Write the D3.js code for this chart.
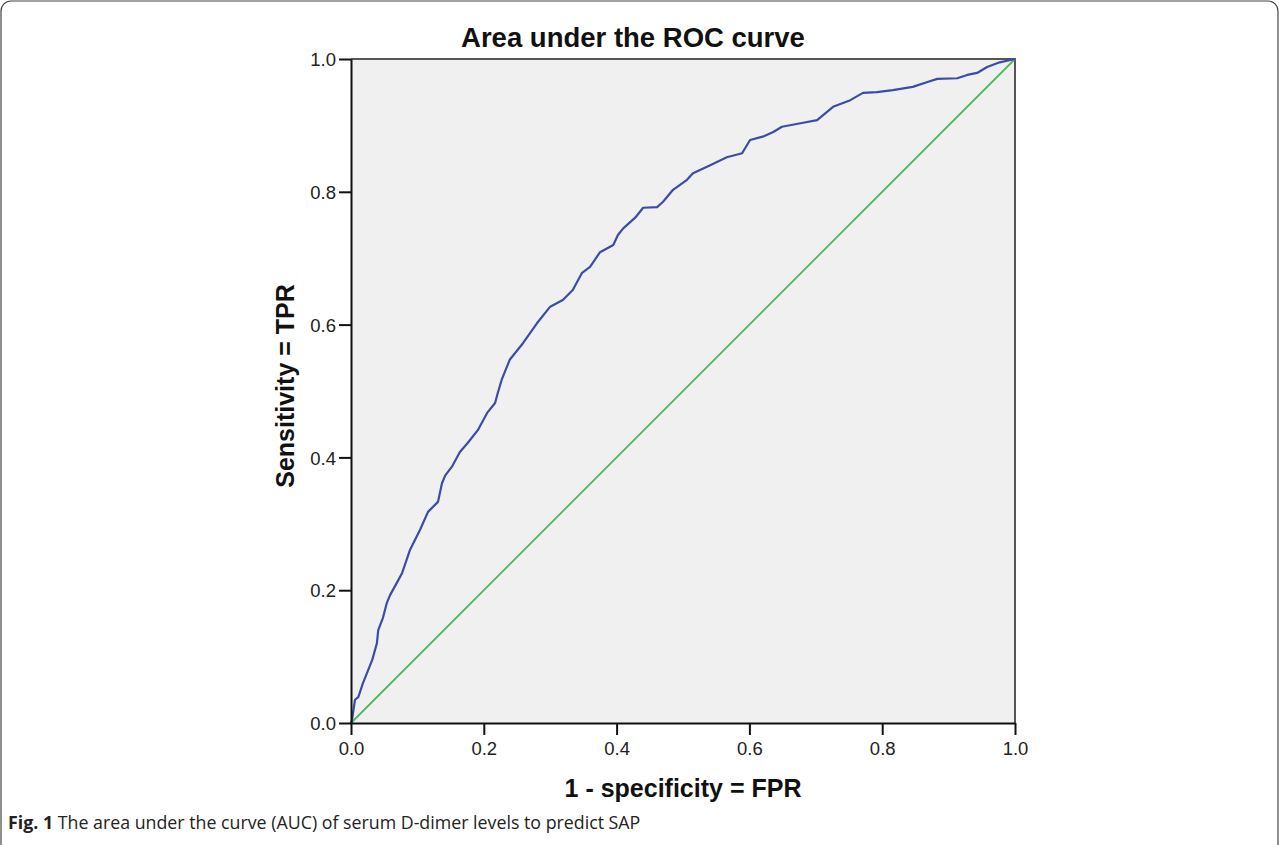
<!DOCTYPE html>
<html>
<head>
<meta charset="utf-8">
<script src="https://cdn.jsdelivr.net/npm/d3@7"></script>
<style>
    body { margin: 0; background: #fff; }
    svg text { font-family: "Liberation Sans", Arial, sans-serif; }
</style>
</head>
<body>
<div id="chart"></div>
<script>
// ROC curve points
var fpr = [0, 0.0015, 0.006, 0.011, 0.018, 0.024, 0.032, 0.039, 0.041, 0.048, 0.054, 0.059, 0.069, 0.077,
    0.089, 0.104, 0.116, 0.131, 0.137, 0.142, 0.152, 0.164, 0.176, 0.191, 0.205, 0.217, 0.221, 0.227,
    0.239, 0.259, 0.280, 0.300, 0.319, 0.334, 0.348, 0.360, 0.375, 0.395, 0.402, 0.410, 0.428, 0.440,
    0.461, 0.470, 0.485, 0.506, 0.515, 0.541, 0.566, 0.589, 0.601, 0.620, 0.636, 0.649, 0.681, 0.702,
    0.726, 0.752, 0.771, 0.792, 0.816, 0.846, 0.867, 0.883, 0.913, 0.928, 0.943, 0.958, 0.977, 1];
var tpr = [0, 0.0045, 0.035, 0.039, 0.060, 0.075, 0.095, 0.120, 0.140, 0.158, 0.181, 0.193, 0.211, 0.226,
    0.261, 0.291, 0.318, 0.333, 0.361, 0.373, 0.386, 0.408, 0.422, 0.441, 0.467, 0.482, 0.497, 0.517,
    0.547, 0.572, 0.602, 0.627, 0.637, 0.652, 0.678, 0.687, 0.709, 0.720, 0.735, 0.745, 0.761, 0.776,
    0.777, 0.785, 0.803, 0.818, 0.828, 0.840, 0.852, 0.858, 0.878, 0.883, 0.890, 0.898, 0.904, 0.908,
    0.928, 0.938, 0.949, 0.950, 0.953, 0.958, 0.965, 0.970, 0.971, 0.976, 0.979, 0.988, 0.995, 1];
var refX = [0, 1];
var refY = [0, 1];
var ticks = [0, 0.2, 0.4, 0.6, 0.8, 1.0];
var titleText = "Area under the ROC curve";
var xLabel = "1 - specificity = FPR";
var yLabel = "Sensitivity = TPR";

var W = 1279, H = 845;
var margin = {top: 59, left: 351};
var size = 664; // plot is square

var svg = d3.select("#chart").append("svg")
    .attr("width", W)
    .attr("height", H);

// outer rounded frame of the figure
svg.append("rect")
    .attr("x", 1).attr("y", 1)
    .attr("width", W - 2).attr("height", H + 20)
    .attr("rx", 10)
    .attr("fill", "none")
    .attr("stroke", "#444")
    .attr("stroke-width", 1.2);

var g = svg.append("g")
    .attr("transform", "translate(" + margin.left + "," + margin.top + ")");

var x = d3.scaleLinear().domain([0, 1]).range([0, size]);
var y = d3.scaleLinear().domain([0, 1]).range([size, 0]);

// plot background
g.append("rect")
    .attr("width", size).attr("height", size)
    .attr("fill", "#f0f0f0");

// top and right border
g.append("path")
    .attr("d", "M0,0H" + size + "V" + size)
    .attr("fill", "none")
    .attr("stroke", "#555")
    .attr("stroke-width", 2);

var curve = fpr.map(function (d, i) { return [d, tpr[i]]; });
var ref = refX.map(function (d, i) { return [d, refY[i]]; });

var line = d3.line()
    .x(function (d) { return x(d[0]); })
    .y(function (d) { return y(d[1]); });

g.append("path")
    .datum(ref)
    .attr("d", line)
    .attr("fill", "none")
    .attr("stroke", "#4cba55")
    .attr("stroke-width", 1.8);

g.append("path")
    .datum(curve)
    .attr("d", line)
    .attr("fill", "none")
    .attr("stroke", "#3b4ca6")
    .attr("stroke-width", 2.2)
    .attr("stroke-linejoin", "round");

// axes
var xAxis = g.append("g")
    .attr("transform", "translate(0," + size + ")")
    .call(d3.axisBottom(x).tickValues(ticks).tickFormat(d3.format(".1f")).tickSize(12).tickSizeOuter(0).tickPadding(7));
var yAxis = g.append("g")
    .call(d3.axisLeft(y).tickValues(ticks).tickFormat(d3.format(".1f")).tickSize(12).tickSizeOuter(0).tickPadding(3));

[xAxis, yAxis].forEach(function (a) {
    a.select(".domain").attr("stroke", "#111").attr("stroke-width", 2);
    a.selectAll(".tick line").attr("stroke", "#111").attr("stroke-width", 2);
    a.selectAll(".tick text")
        .attr("fill", "#222")
        .style("font-size", "18.5px")
        .style("font-family", "'Liberation Sans', Arial, sans-serif");
});
yAxis.selectAll(".tick text").attr("dy", "0.36em");

// title and labels
svg.append("text")
    .attr("x", 633).attr("y", 47)
    .attr("text-anchor", "middle")
    .style("font-size", "27.5px")
    .style("font-weight", "bold")
    .attr("fill", "#111")
    .text(titleText);

svg.append("text")
    .attr("x", margin.left + size / 2).attr("y", 797)
    .attr("text-anchor", "middle")
    .style("font-size", "25px")
    .style("font-weight", "bold")
    .attr("fill", "#111")
    .text(xLabel);

svg.append("text")
    .attr("transform", "translate(294," + (margin.top + size / 2 - 5) + ") rotate(-90)")
    .attr("text-anchor", "middle")
    .style("font-size", "25px")
    .style("font-weight", "bold")
    .attr("fill", "#111")
    .text(yLabel);

// caption
var cap = svg.append("text")
    .attr("x", 8).attr("y", 829)
    .style("font-family", "'Open Sans', sans-serif")
    .style("font-size", "17.8px")
    .attr("fill", "#222");
cap.append("tspan").style("font-weight", "bold").text("Fig. 1");
cap.append("tspan").text(" The area under the curve (AUC) of serum D-dimer levels to predict SAP");
</script>
</body>
</html>
